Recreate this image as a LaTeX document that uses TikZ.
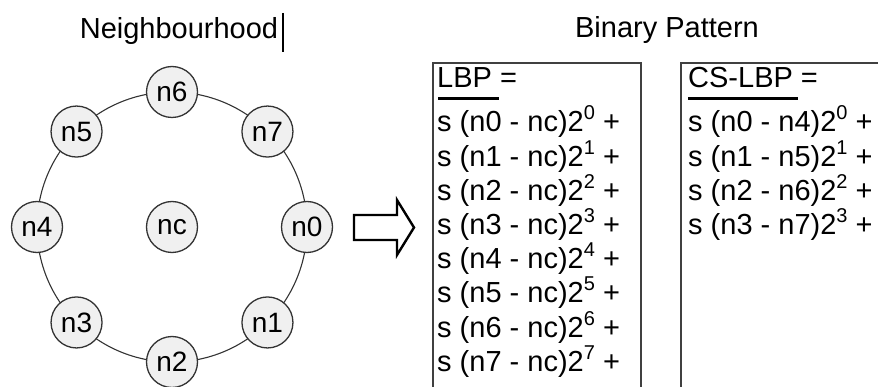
\documentclass[tikz,border=0pt]{standalone}
\usepackage{fontspec}
\setmainfont{Liberation Sans}

% power of two written as a raised digit
\newcommand{\pw}[1]{\raisebox{0.42em}{\fontsize{20}{20}\selectfont #1}}

\begin{document}
\begin{tikzpicture}[x=1pt,y=-1pt,
    pix/.style={circle, draw=black!80, line width=1.3pt, fill=gray!12,
        minimum size=51pt, inner sep=0pt, font=\fontsize{28}{28}\selectfont},
    eqn/.style={anchor=base west, inner sep=0pt, font=\fontsize{29}{29}\selectfont},
    frame/.style={draw=black!75, line width=1.4pt}]
    \useasboundingbox (0,0) rectangle (878,387);

    % Titles
    \node[font=\fontsize{29}{29}\selectfont] (nbtitle) at (179,31) {Neighbourhood};
    \draw[line width=1.2pt] (283,13) -- (283,52);
    \node[font=\fontsize{29}{29}\selectfont] (bptitle) at (667,30) {Binary Pattern};

    % Ring of neighbours around the centre pixel
    \draw[black!80, line width=1.1pt] (172,227) circle (135pt);
    \node[pix] (nc) at (172,227) {nc};
    \begin{scope}[shift={(172,227)}]
        \foreach \i in {0,...,7}
            \node[pix] (n\i) at (45*\i:135) {n\i};
    \end{scope}

    % Hollow block arrow
    \draw[line width=2.4pt, line join=miter] (354,215) -- (397,215) -- (397,200) -- (414,227.5)
        -- (397,255) -- (397,240) -- (354,240) -- cycle;

    % LBP box
    \draw[frame] (433,400) |- (641,63) -- (641,400);
    \node[eqn] (lbp) at (437,88) {LBP =};
    \draw[line width=3pt] (438,99) -- (499,99);
    \foreach \i in {0,...,7}
        \node[eqn] (lbp\i) at (437,{132+34.2*\i}) {s (n\i\ - nc)2\pw{\i} +};

    % CS-LBP box
    \draw[frame] (681,400) |- (900,63);
    \node[eqn] (cslbp) at (688,88) {CS-LBP =};
    \draw[line width=3pt] (688,99) -- (798,99);
    \foreach \i [evaluate=\i as \j using int(\i+4)] in {0,...,3}
        \node[eqn] (cs\i) at (688,{132+34.2*\i}) {s (n\i\ - n\j)2\pw{\i} +};
\end{tikzpicture}
\end{document}
